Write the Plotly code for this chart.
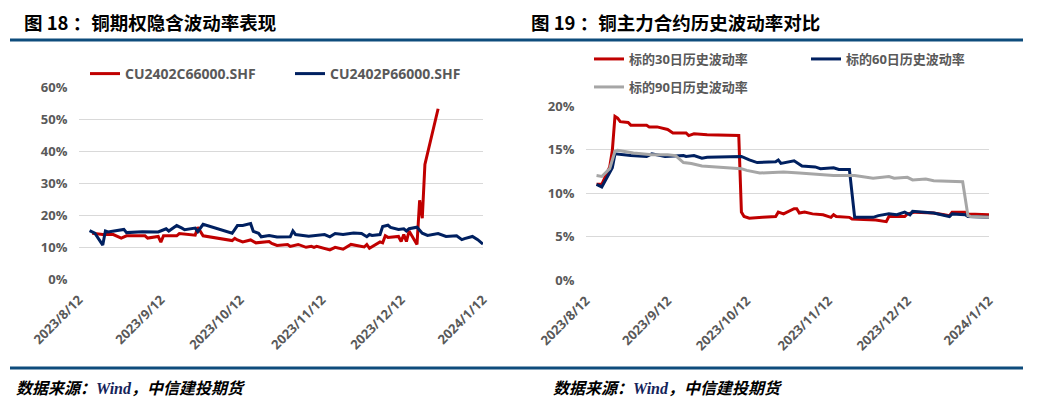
import plotly.graph_objects as go

W, H = 1044, 409

# ---------------- data: left chart (implied vol, %) ----------------
call_dates = ["2023-08-17", "2023-08-21", "2023-08-25", "2023-08-28", "2023-08-30", "2023-09-06",
              "2023-09-07", "2023-09-11", "2023-09-12", "2023-09-13", "2023-09-18", "2023-09-19",
              "2023-09-25", "2023-09-26", "2023-09-28", "2023-10-09", "2023-10-10", "2023-10-11",
              "2023-10-13", "2023-10-16", "2023-10-18", "2023-10-23", "2023-10-24", "2023-10-26",
              "2023-10-30", "2023-10-31", "2023-11-03", "2023-11-06", "2023-11-08", "2023-11-09",
              "2023-11-10", "2023-11-15", "2023-11-17", "2023-11-20", "2023-11-23", "2023-11-28",
              "2023-11-29", "2023-11-30", "2023-12-04", "2023-12-05", "2023-12-06", "2023-12-07",
              "2023-12-11", "2023-12-12", "2023-12-13", "2023-12-14", "2023-12-15", "2023-12-18",
              "2023-12-19", "2023-12-20", "2023-12-21", "2023-12-26"]
call_iv = [14.3, 13.9, 13.9, 12.8, 13.5, 13.5,
           12.8, 13.3, 11.5, 13.5, 13.5, 14.2,
           13.7, 16.2, 13.5, 12.0, 12.7, 12.2,
           11.6, 12.2, 11.3, 11.7, 11.1, 10.5,
           10.8, 10.2, 10.8, 9.9, 10.2, 9.9,
           10.2, 9.1, 9.9, 9.3, 10.8, 10.0,
           10.8, 9.6, 11.6, 11.3, 13.5, 13.0,
           13.3, 11.7, 13.9, 11.7, 15.0, 10.8,
           24.6, 19.0, 35.8, 53.2]

put_dates = ["2023-08-16", "2023-08-18", "2023-08-21", "2023-08-22", "2023-08-23", "2023-08-29",
             "2023-08-30", "2023-09-05", "2023-09-11", "2023-09-14", "2023-09-15", "2023-09-18",
             "2023-09-20", "2023-09-21", "2023-09-25", "2023-09-26", "2023-09-28", "2023-10-09",
             "2023-10-11", "2023-10-13", "2023-10-16", "2023-10-17", "2023-10-19", "2023-10-20",
             "2023-10-23", "2023-10-26", "2023-10-31", "2023-11-01", "2023-11-02", "2023-11-07",
             "2023-11-13", "2023-11-15", "2023-11-17", "2023-11-20", "2023-11-24", "2023-11-27",
             "2023-11-29", "2023-11-30", "2023-12-01", "2023-12-04", "2023-12-05", "2023-12-07",
             "2023-12-08", "2023-12-11", "2023-12-13", "2023-12-14", "2023-12-15", "2023-12-18",
             "2023-12-20", "2023-12-22", "2023-12-26", "2023-12-28", "2023-12-29", "2024-01-02",
             "2024-01-04", "2024-01-05", "2024-01-08", "2024-01-10", "2024-01-12"]
put_iv = [15.1, 14.3, 10.6, 15.0, 14.7, 15.5,
          14.5, 14.8, 14.7, 15.7, 15.0, 16.7,
          15.9, 15.4, 15.9, 14.8, 17.1, 14.3,
          16.7, 16.7, 17.3, 14.9, 14.3, 13.2,
          13.6, 13.1, 13.2, 15.0, 13.9, 13.4,
          13.9, 13.2, 14.2, 13.9, 14.4, 14.2,
          13.2, 13.9, 13.6, 13.9, 16.4, 16.8,
          16.1, 15.5, 15.7, 15.0, 15.7, 16.2,
          14.3, 13.6, 14.2, 13.5, 13.3, 13.5,
          12.3, 12.6, 13.3, 12.3, 10.9]

# ---------------- data: right chart (historical vol, %) ----------------
hv30_dates = ["2023-08-16", "2023-08-18", "2023-08-21", "2023-08-22", "2023-08-23", "2023-08-24",
              "2023-08-25", "2023-08-28", "2023-08-29", "2023-09-04", "2023-09-05", "2023-09-08",
              "2023-09-12", "2023-09-14", "2023-09-19", "2023-09-20", "2023-09-22", "2023-09-27",
              "2023-10-09", "2023-10-10", "2023-10-11", "2023-10-13", "2023-10-18", "2023-10-23",
              "2023-10-24", "2023-10-26", "2023-10-30", "2023-10-31", "2023-11-01", "2023-11-03",
              "2023-11-06", "2023-11-10", "2023-11-13", "2023-11-14", "2023-11-15", "2023-11-20",
              "2023-11-21", "2023-11-27", "2023-11-30", "2023-12-04", "2023-12-05", "2023-12-11",
              "2023-12-12", "2023-12-15", "2023-12-22", "2023-12-26", "2023-12-28", "2023-12-29",
              "2024-01-03", "2024-01-04", "2024-01-12"]
hv30 = [11.0, 11.0, 13.0, 14.9, 18.8, 18.6,
        18.2, 18.1, 17.8, 17.8, 17.6, 17.6,
        17.3, 16.9, 16.9, 16.6, 16.8, 16.7,
        16.6, 7.8, 7.3, 7.1, 7.2, 7.3,
        7.8, 7.6, 8.2, 8.2, 7.7, 7.8,
        7.6, 7.5, 7.2, 7.5, 7.3, 7.2,
        7.0, 6.9, 6.9, 6.7, 7.3, 7.3,
        7.6, 7.8, 7.7, 7.5, 7.4, 7.8,
        7.8, 7.6, 7.5]

hv60_dates = ["2023-08-16", "2023-08-18", "2023-08-22", "2023-08-23", "2023-08-29", "2023-09-04",
              "2023-09-06", "2023-09-11", "2023-09-18", "2023-09-19", "2023-09-22", "2023-09-25",
              "2023-09-27", "2023-10-10", "2023-10-13", "2023-10-16", "2023-10-23", "2023-10-24",
              "2023-10-25", "2023-10-30", "2023-11-02", "2023-11-07", "2023-11-09", "2023-11-14",
              "2023-11-16", "2023-11-20", "2023-11-22", "2023-11-29", "2023-12-01", "2023-12-05",
              "2023-12-08", "2023-12-11", "2023-12-13", "2023-12-14", "2023-12-22", "2023-12-26",
              "2023-12-28", "2023-12-29", "2024-01-03", "2024-01-04", "2024-01-12"]
hv60 = [11.0, 10.7, 12.9, 14.5, 14.3, 14.2,
        14.5, 14.2, 14.3, 14.2, 14.3, 14.0,
        14.1, 14.2, 13.8, 13.5, 13.6, 13.8,
        13.4, 13.7, 13.1, 13.0, 12.8, 12.9,
        12.7, 12.7, 7.2, 7.2, 7.4, 7.6,
        7.5, 7.8, 7.5, 7.9, 7.7, 7.4,
        7.3, 7.6, 7.5, 7.3, 7.2]

hv90_dates = ["2023-08-16", "2023-08-18", "2023-08-21", "2023-08-23", "2023-08-24", "2023-08-30",
              "2023-09-06", "2023-09-12", "2023-09-15", "2023-09-18", "2023-09-21", "2023-09-25",
              "2023-10-10", "2023-10-12", "2023-10-17", "2023-10-23", "2023-10-26", "2023-11-01",
              "2023-11-06", "2023-11-14", "2023-11-20", "2023-11-22", "2023-11-29", "2023-12-05",
              "2023-12-07", "2023-12-12", "2023-12-14", "2023-12-19", "2023-12-22", "2023-12-29",
              "2024-01-02", "2024-01-04", "2024-01-05", "2024-01-12"]
hv90 = [12.0, 11.9, 12.8, 14.8, 14.9, 14.6,
        14.4, 14.4, 14.3, 13.5, 13.4, 13.1,
        12.8, 12.6, 12.3, 12.4, 12.4, 12.3,
        12.2, 12.0, 12.0, 12.0, 11.7, 11.9,
        11.7, 11.8, 11.5, 11.6, 11.4, 11.3,
        11.3, 7.4, 7.3, 7.2]

tick_dates = ["2023-08-12", "2023-09-12", "2023-10-12", "2023-11-12", "2023-12-12", "2024-01-12"]
tick_text = ["2023/8/12", "2023/9/12", "2023/10/12", "2023/11/12", "2023/12/12", "2024/1/12"]
left_yticks = [0, 10, 20, 30, 40, 50, 60]
right_yticks = [0, 5, 10, 15, 20]

left_names = ["CU2402C66000.SHF", "CU2402P66000.SHF"]
right_names = ["标的30日历史波动率", "标的60日历史波动率", "标的90日历史波动率"]
titles = ["图 18 ：铜期权隐含波动率表现", "图 19 ：铜主力合约历史波动率对比"]
source = "数据来源：<span style='font-family:Liberation Serif;color:#14235a'>Wind</span>，中信建投期货"

RED, NAVY, GREY = "#C00000", "#002060", "#A6A6A6"
TXT = "#595959"
BAR = "#0E4C7C"
FONT = "Open Sans, Noto Sans CJK SC, sans-serif"


def px_x(x):
    return x / W


def px_y(y):
    return 1 - y / H


fig = go.Figure()
fig.add_trace(go.Scatter(x=call_dates, y=call_iv, name=left_names[0], mode="lines",
                         line=dict(color=RED, width=3), xaxis="x", yaxis="y", legend="legend"))
fig.add_trace(go.Scatter(x=put_dates, y=put_iv, name=left_names[1], mode="lines",
                         line=dict(color=NAVY, width=3), xaxis="x", yaxis="y", legend="legend"))
fig.add_trace(go.Scatter(x=hv30_dates, y=hv30, name=right_names[0], mode="lines",
                         line=dict(color=RED, width=3), xaxis="x2", yaxis="y2", legend="legend2"))
fig.add_trace(go.Scatter(x=hv60_dates, y=hv60, name=right_names[1], mode="lines",
                         line=dict(color=NAVY, width=3), xaxis="x2", yaxis="y2", legend="legend2"))
fig.add_trace(go.Scatter(x=hv90_dates, y=hv90, name=right_names[2], mode="lines",
                         line=dict(color=GREY, width=3), xaxis="x2", yaxis="y2", legend="legend3"))

tickfont = dict(family=FONT, size=13, color=TXT, weight="bold")

xcommon = dict(type="date", range=[tick_dates[0], tick_dates[-1]], tickvals=tick_dates,
               ticktext=tick_text, tickangle=-45, showgrid=False, zeroline=False,
               showline=False, ticks="outside", ticklen=7, tickcolor="rgba(0,0,0,0)",
               tickfont=tickfont, automargin=False)
ycommon = dict(showgrid=True, gridcolor="#D9D9D9", gridwidth=1, zeroline=False, showline=False,
               ticks="outside", ticklen=8, tickcolor="rgba(0,0,0,0)",
               tickfont=tickfont, automargin=False)

legfont_l = dict(family=FONT, size=14, color=TXT, weight="bold")
legfont_r = dict(family=FONT, size=13, color=TXT, weight="bold")

fig.update_layout(
    width=W, height=H, margin=dict(l=0, r=0, t=0, b=0, pad=0, autoexpand=False),
    paper_bgcolor="white", plot_bgcolor="white",
    xaxis=dict(domain=[px_x(79), px_x(483)], anchor="y", **xcommon),
    yaxis=dict(domain=[px_y(279), px_y(87)], anchor="x", range=[0, 60], tickvals=left_yticks,
               ticktext=[f"{v}%" for v in left_yticks], **ycommon),
    xaxis2=dict(domain=[px_x(586), px_x(989)], anchor="y2", **xcommon),
    yaxis2=dict(domain=[px_y(280), px_y(106)], anchor="x2", range=[0, 20], tickvals=right_yticks,
                ticktext=[f"{v}%" for v in right_yticks], **ycommon),
    legend=dict(orientation="h", x=px_x(85), y=px_y(74), xanchor="left", yanchor="middle",
                entrywidth=160, entrywidthmode="pixels", font=legfont_l, bgcolor="rgba(0,0,0,0)"),
    legend2=dict(orientation="h", x=px_x(589), y=px_y(59), xanchor="left", yanchor="middle",
                 entrywidth=172, entrywidthmode="pixels", font=legfont_r, bgcolor="rgba(0,0,0,0)"),
    legend3=dict(orientation="h", x=px_x(589), y=px_y(87), xanchor="left", yanchor="middle",
                 font=legfont_r, bgcolor="rgba(0,0,0,0)"),
    showlegend=True,
)

shapes = []
for (x0, x1) in [(10, 520), (520, 1023)]:
    shapes.append(dict(type="line", xref="paper", yref="paper", x0=px_x(x0), x1=px_x(x1),
                       y0=px_y(40), y1=px_y(40), line=dict(color=BAR, width=3)))
    shapes.append(dict(type="line", xref="paper", yref="paper", x0=px_x(x0), x1=px_x(x1),
                       y0=px_y(368), y1=px_y(368), line=dict(color=BAR, width=3)))
fig.update_layout(shapes=shapes)

annotations = [
    dict(text=titles[0], x=px_x(22), y=px_y(22), xref="paper", yref="paper", xanchor="left",
         yanchor="middle", showarrow=False,
         font=dict(family="Noto Sans CJK SC", size=18.5, color="#000000", weight="bold")),
    dict(text=titles[1], x=px_x(529), y=px_y(22), xref="paper", yref="paper", xanchor="left",
         yanchor="middle", showarrow=False,
         font=dict(family="Noto Sans CJK SC", size=18.5, color="#000000", weight="bold")),
    dict(text="<i>" + source + "</i>", x=px_x(14), y=px_y(387), xref="paper", yref="paper",
         xanchor="left", yanchor="middle", showarrow=False,
         font=dict(family="Noto Sans CJK SC", size=16, color="#000000", weight="bold")),
    dict(text="<i>" + source + "</i>", x=px_x(551), y=px_y(387), xref="paper", yref="paper",
         xanchor="left", yanchor="middle", showarrow=False,
         font=dict(family="Noto Sans CJK SC", size=16, color="#000000", weight="bold")),
]
fig.update_layout(annotations=annotations)

fig.write_html("out.html", config={"displayModeBar": False},
               post_script="document.body.style.margin='0px';")
